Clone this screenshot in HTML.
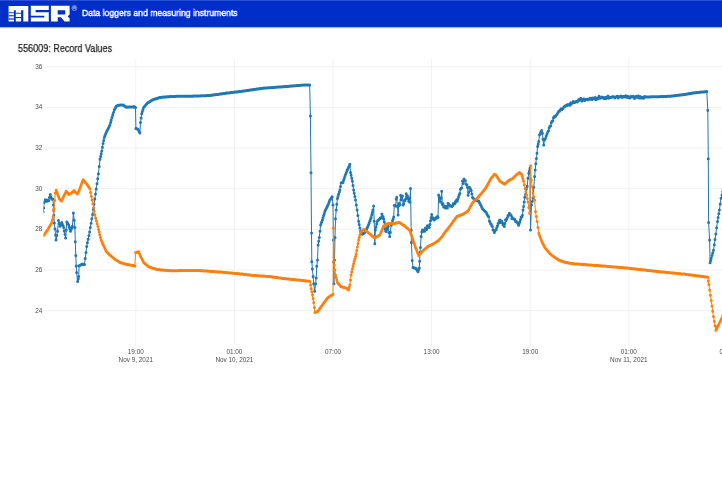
<!DOCTYPE html>
<html><head><meta charset="utf-8"><style>
html,body{margin:0;padding:0;background:#fff;}
body{width:722px;height:481px;position:relative;overflow:hidden;font-family:"Liberation Sans",sans-serif;}
.hdr{position:absolute;left:0;top:0;width:722px;height:27px;background:#002ec9;box-shadow:0 1px 1px rgba(0,0,0,0.28);border-top:1px solid #2a4fd0;box-sizing:border-box;z-index:2;}
.logo{position:absolute;left:0;top:0;}
.tag{position:absolute;left:81.5px;top:6.2px;color:#fff;font-size:9.7px;font-weight:normal;-webkit-text-stroke:0.4px #fff;white-space:nowrap;transform-origin:0 0;transform:scaleX(0.892);will-change:transform;}
.title{position:absolute;left:18px;top:42.2px;color:#222;font-size:10.6px;white-space:nowrap;line-height:12px;transform-origin:0 0;transform:scaleX(0.855);-webkit-text-stroke:0.25px #222;will-change:transform;}
.chart{position:absolute;left:0;top:0;z-index:1;will-change:transform;}
</style></head><body>
<div class="hdr"><svg class="logo" width="80" height="27" style="top:-1px" viewBox="0 0 80 27">
<g fill="#fff">
<path d="M8.6 6.1H28.3V21.5H23.3V10.2H21.1V21.5H15.8V10.2H13.9V21.5H8.6Z"/>
<path d="M30.8 5.8H48.8V9.9H35.6V12.3H48.8V21.4H30.8V17.5H44.3V15.8H30.8Z"/>
<path d="M50.9 5.8H69.6V14.6L67.6 16.4L69.6 18.2V21.4H64.6L61.0 17.2H57.7V21.4H50.9ZM57.7 10.3V14.4H65.2V10.3Z" fill-rule="evenodd"/>
</g>
<g fill="#002ec9">
<rect x="8.6" y="12.3" width="5.3" height="0.9"/><rect x="8.6" y="15.2" width="5.3" height="1.1"/><rect x="8.6" y="18.4" width="5.3" height="1.2"/>
<rect x="15.8" y="12.8" width="5.3" height="0.9"/><rect x="15.8" y="17.0" width="5.3" height="1.1"/>
</g>
<circle cx="74.4" cy="8.0" r="2.9" fill="#5d76dc"/><circle cx="74.4" cy="7.6" r="1.3" fill="#8094e4"/><circle cx="74.4" cy="9.5" r="0.7" fill="#2a48cf"/>
</svg><div class="tag">Data loggers and measuring instruments</div></div>
<div class="title">556009: Record Values</div>
<svg class="chart" width="722" height="481" viewBox="0 0 722 481">
<g stroke="#f1f1f1" stroke-width="1"><line x1="43.5" x2="722" y1="66.80" y2="66.80"/><line x1="43.5" x2="722" y1="107.43" y2="107.43"/><line x1="43.5" x2="722" y1="148.07" y2="148.07"/><line x1="43.5" x2="722" y1="188.70" y2="188.70"/><line x1="43.5" x2="722" y1="229.33" y2="229.33"/><line x1="43.5" x2="722" y1="269.97" y2="269.97"/><line x1="43.5" x2="722" y1="310.60" y2="310.60"/><line x1="135.80" x2="135.80" y1="58.7" y2="345.3"/><line x1="234.40" x2="234.40" y1="58.7" y2="345.3"/><line x1="333.00" x2="333.00" y1="58.7" y2="345.3"/><line x1="431.60" x2="431.60" y1="58.7" y2="345.3"/><line x1="530.20" x2="530.20" y1="58.7" y2="345.3"/><line x1="628.80" x2="628.80" y1="58.7" y2="345.3"/><line x1="727.40" x2="727.40" y1="58.7" y2="345.3"/></g>
<g font-family="Liberation Sans, sans-serif" font-size="6.4" fill="#4a4a4a"><text x="42.3" y="68.80" text-anchor="end">36</text><text x="42.3" y="109.43" text-anchor="end">34</text><text x="42.3" y="150.07" text-anchor="end">32</text><text x="42.3" y="190.70" text-anchor="end">30</text><text x="42.3" y="231.33" text-anchor="end">28</text><text x="42.3" y="271.97" text-anchor="end">26</text><text x="42.3" y="312.60" text-anchor="end">24</text><text x="135.80" y="354.3" text-anchor="middle">19:00</text><text x="135.80" y="361.6" text-anchor="middle">Nov 9, 2021</text><text x="234.40" y="354.3" text-anchor="middle">01:00</text><text x="234.40" y="361.6" text-anchor="middle">Nov 10, 2021</text><text x="333.00" y="354.3" text-anchor="middle">07:00</text><text x="431.60" y="354.3" text-anchor="middle">13:00</text><text x="530.20" y="354.3" text-anchor="middle">19:00</text><text x="628.80" y="354.3" text-anchor="middle">01:00</text><text x="628.80" y="361.6" text-anchor="middle">Nov 11, 2021</text><text x="727.40" y="354.3" text-anchor="middle">07:00</text></g>
<clipPath id="pc"><rect x="43.5" y="58.7" width="683.5" height="286.6"/></clipPath>
<g clip-path="url(#pc)"><polyline points="43.1,211.8 43.7,208.1 44.1,202.5 44.7,201.5 45.3,199.7 46.1,200.0 46.9,201.3 47.5,200.2 48.1,200.7 48.8,200.7 49.4,197.6 50.3,194.4 50.9,197.0 51.5,198.5 52.1,199.2 52.8,199.1 53.4,205.0 53.7,210.0 53.8,215.0 54.3,223.0 55.0,229.0 55.6,235.0 56.0,240.0 56.8,235.6 57.5,231.2 58.5,220.6 59.2,223.4 60.0,226.2 60.6,225.0 61.2,223.7 61.8,222.5 62.4,224.2 63.1,225.8 63.7,227.5 64.3,231.0 65.0,234.5 65.6,238.0 66.2,229.9 66.8,221.9 67.4,222.9 68.1,224.0 68.7,225.0 69.3,227.1 69.9,229.1 70.5,231.2 71.1,229.5 71.8,227.9 72.4,226.2 73.4,213.0 74.2,220.2 74.9,227.5 75.3,241.8 75.8,255.5 76.2,266.0 76.6,272.4 77.6,281.4 78.2,279.0 78.7,276.6 79.1,265.8 79.8,265.5 80.4,265.1 81.1,264.8 81.7,264.4 82.4,264.1 83.1,264.2 83.8,264.4 84.5,264.5 85.2,258.5 86.0,252.4 86.7,246.4 87.4,242.8 88.2,239.2 88.9,235.5 89.6,231.9 90.3,227.5 91.1,223.2 91.8,218.8 92.6,214.4 93.3,209.3 94.0,204.2 94.8,199.1 95.5,194.0 96.2,188.9 97.0,183.8 97.7,178.8 98.4,173.7 99.2,166.4 100.0,159.2 100.6,156.5 101.2,153.8 101.8,151.1 102.4,147.3 103.1,143.6 103.7,140.5 104.3,137.4 104.9,135.7 105.6,134.1 106.2,132.4 106.8,131.2 107.5,129.9 108.1,128.7 108.7,127.4 109.3,126.2 109.9,124.9 110.6,122.5 111.2,120.0 112.0,117.5 112.7,115.0 113.5,112.5 114.3,110.0 114.9,108.7 115.6,107.5 116.2,106.2 116.8,106.0 117.5,105.7 118.1,105.5 118.7,105.2 119.4,105.2 120.1,105.1 120.8,105.1 121.6,105.0 122.3,105.0 123.0,104.9 123.6,105.4 124.3,105.8 124.9,106.3 125.6,106.7 126.2,107.2 126.9,107.2 127.6,107.1 128.2,107.1 128.9,107.1 129.6,107.0 130.2,107.0 130.9,107.0 131.6,106.9 132.3,106.9 133.0,106.9 133.6,106.8 134.3,106.8 134.9,107.1 135.5,107.4 135.9,128.6 136.6,128.8 137.3,129.1 138.0,129.3 138.6,130.5 139.3,131.8 139.9,133.0 140.5,122.4 141.1,118.1 141.7,113.7 142.3,111.6 143.0,109.5 143.6,107.4 144.2,106.7 144.9,106.0 145.5,105.2 146.1,104.5 146.8,103.8 147.4,103.1 148.1,102.7 148.8,102.2 149.5,101.8 150.2,101.3 150.9,100.9 151.6,100.4 152.3,100.0 153.0,99.8 153.7,99.5 154.3,99.3 155.0,99.1 155.7,98.9 156.4,98.6 157.1,98.4 157.8,98.2 158.4,98.0 159.1,97.7 159.8,97.5 160.5,97.4 161.1,97.4 161.8,97.3 162.5,97.3 163.1,97.2 163.8,97.1 164.5,97.1 165.1,97.0 165.8,97.0 166.5,96.9 167.1,96.8 167.8,96.8 168.5,96.7 169.1,96.7 169.8,96.6 170.5,96.6 171.2,96.5 171.8,96.5 172.5,96.5 173.2,96.5 173.9,96.4 174.6,96.4 175.2,96.4 175.9,96.4 176.6,96.3 177.3,96.3 178.0,96.3 178.6,96.3 179.3,96.2 180.0,96.2 180.7,96.2 181.4,96.2 182.0,96.2 182.7,96.2 183.4,96.2 184.1,96.2 184.7,96.2 185.4,96.2 186.1,96.2 186.8,96.2 187.5,96.2 188.1,96.2 188.8,96.2 189.5,96.2 190.2,96.2 190.8,96.2 191.5,96.2 192.2,96.2 192.9,96.2 193.6,96.1 194.2,96.1 194.9,96.1 195.6,96.1 196.3,96.0 197.0,96.0 197.6,96.0 198.3,96.0 199.0,95.9 199.7,95.9 200.4,95.9 201.1,95.8 201.7,95.8 202.4,95.8 203.1,95.8 203.8,95.7 204.5,95.7 205.1,95.7 205.8,95.7 206.5,95.6 207.2,95.6 207.9,95.6 208.5,95.6 209.2,95.5 209.9,95.5 210.6,95.4 211.2,95.3 211.9,95.2 212.6,95.1 213.3,95.0 213.9,94.9 214.6,94.8 215.3,94.7 216.0,94.6 216.6,94.5 217.3,94.4 218.0,94.4 218.7,94.3 219.3,94.2 220.0,94.1 220.7,94.0 221.4,93.9 222.0,93.8 222.7,93.7 223.4,93.6 224.1,93.5 224.7,93.4 225.4,93.3 226.1,93.2 226.8,93.1 227.5,93.0 228.1,93.0 228.8,92.9 229.5,92.8 230.2,92.7 230.9,92.6 231.6,92.5 232.2,92.5 232.9,92.4 233.6,92.3 234.3,92.2 235.0,92.1 235.7,92.0 236.4,91.9 237.0,91.9 237.7,91.8 238.4,91.7 239.1,91.6 239.8,91.5 240.5,91.4 241.1,91.4 241.8,91.3 242.5,91.2 243.2,91.1 243.9,91.0 244.6,90.9 245.3,90.8 245.9,90.7 246.6,90.6 247.3,90.5 248.0,90.4 248.7,90.3 249.4,90.2 250.1,90.1 250.7,90.0 251.4,89.9 252.1,89.8 252.8,89.7 253.5,89.6 254.2,89.5 254.9,89.4 255.6,89.3 256.2,89.2 256.9,89.1 257.6,89.0 258.3,88.9 259.0,88.8 259.7,88.7 260.4,88.6 261.0,88.5 261.7,88.4 262.4,88.3 263.1,88.2 263.8,88.2 264.5,88.1 265.2,88.0 265.9,88.0 266.6,88.0 267.3,87.9 268.0,87.8 268.7,87.8 269.3,87.8 270.0,87.7 270.7,87.7 271.4,87.6 272.1,87.5 272.8,87.5 273.5,87.5 274.2,87.4 274.9,87.3 275.6,87.3 276.3,87.2 277.0,87.2 277.7,87.1 278.4,87.1 279.1,87.0 279.8,87.0 280.4,87.0 281.1,86.9 281.8,86.8 282.5,86.8 283.2,86.8 283.9,86.7 284.6,86.6 285.3,86.6 286.0,86.5 286.7,86.5 287.3,86.4 288.0,86.4 288.7,86.3 289.4,86.3 290.1,86.2 290.7,86.1 291.4,86.1 292.1,86.0 292.8,86.0 293.5,85.9 294.1,85.8 294.8,85.8 295.5,85.7 296.2,85.7 296.9,85.6 297.6,85.6 298.2,85.5 298.9,85.4 299.6,85.4 300.3,85.3 301.0,85.3 301.6,85.2 302.3,85.2 303.0,85.1 303.7,85.1 304.3,85.1 305.0,85.1 305.7,85.1 306.4,85.1 307.0,85.1 307.7,85.1 308.4,85.1 309.0,85.1 309.7,85.1 310.4,116.1 311.0,172.7 311.5,233.0 311.8,261.7 312.4,269.0 313.1,276.4 313.7,283.7 314.7,291.2 315.6,283.7 316.2,278.1 316.8,266.2 317.5,259.9 318.1,244.9 318.7,241.2 319.3,237.4 320.0,231.2 320.6,225.0 321.2,223.3 321.8,221.7 322.4,220.0 323.0,217.8 323.6,215.6 324.3,213.4 324.9,211.2 325.5,210.0 326.1,208.7 326.8,207.5 327.4,206.2 328.0,205.0 328.6,203.3 329.3,201.6 329.9,199.9 330.7,198.9 331.4,197.8 332.2,196.8 333.0,205.0 333.4,240.0 333.7,262.0 333.9,283.7 334.5,260.0 335.0,237.4 335.5,218.7 336.2,210.0 336.8,204.3 337.4,198.6 338.0,196.4 338.6,194.2 339.3,192.1 339.9,189.9 340.5,186.4 341.1,183.0 341.7,182.8 342.4,182.6 343.0,182.4 343.6,180.3 344.3,178.3 344.9,176.2 345.5,174.5 346.2,172.9 346.8,171.2 347.4,169.8 348.0,168.4 348.7,167.1 349.3,165.7 349.9,164.3 350.5,172.4 351.1,175.3 351.8,178.3 352.4,181.2 353.0,185.6 353.6,189.9 354.2,193.2 354.9,196.6 355.5,199.9 356.3,204.9 357.1,209.9 357.9,215.6 358.6,221.2 359.2,224.5 359.9,227.9 360.5,231.2 361.1,232.2 361.7,233.3 362.3,234.3 362.9,233.8 363.6,233.4 364.2,232.9 364.8,232.4 365.4,231.2 366.1,229.9 366.7,228.7 367.4,227.4 368.0,226.2 368.6,224.5 369.2,222.7 369.9,221.0 370.5,219.2 371.1,217.5 371.7,215.0 372.3,212.5 372.9,210.0 373.6,206.1 374.2,221.2 374.8,243.7 375.4,229.9 376.0,227.0 376.7,224.1 377.3,221.2 377.9,220.6 378.6,219.9 379.2,219.3 379.8,218.7 380.5,217.8 381.2,218.1 381.9,214.0 382.5,217.1 383.1,216.4 383.7,219.0 384.3,222.1 385.0,228.7 385.6,231.0 386.2,231.6 386.9,229.5 387.5,227.1 388.2,226.5 389.0,232.7 389.7,236.6 390.4,232.2 391.2,225.0 391.8,224.5 392.5,220.7 393.1,219.0 393.7,217.0 394.3,205.3 395.0,205.5 395.6,206.0 396.2,199.1 396.8,197.2 397.5,206.5 398.1,215.1 398.7,205.8 399.3,203.3 399.9,204.8 400.6,195.3 401.2,199.7 401.8,195.9 402.4,196.0 403.1,204.9 403.7,203.7 404.3,200.6 404.9,200.8 405.6,198.9 406.2,193.8 406.8,196.9 407.4,195.7 408.1,198.4 408.7,201.2 409.3,197.9 409.9,202.3 410.5,188.5 411.2,229.9 411.4,242.5 412.2,260.5 413.0,267.4 413.6,267.6 414.3,267.9 414.9,268.1 415.6,268.4 416.2,268.6 416.8,269.7 417.4,270.7 418.0,271.8 418.6,269.9 419.3,268.0 419.7,261.2 419.9,252.4 420.5,247.5 421.1,236.4 421.8,232.0 422.4,229.9 423.1,230.1 423.9,231.2 424.6,231.3 425.4,228.1 426.1,228.4 426.7,229.5 427.4,225.7 428.0,226.9 428.7,226.6 429.3,227.6 429.9,224.4 430.5,220.7 431.1,217.6 431.7,214.6 432.3,218.4 433.0,217.7 433.6,219.5 434.2,220.0 434.9,219.2 435.5,218.8 436.1,217.4 436.7,217.9 437.4,216.5 438.0,217.6 438.6,195.1 439.2,197.0 439.9,200.5 440.5,202.0 441.1,198.1 441.7,191.2 442.3,204.4 442.9,203.6 443.6,206.9 444.2,205.9 444.8,206.9 445.4,207.9 446.1,206.2 446.7,206.5 447.4,208.0 448.0,203.3 448.6,203.9 449.2,205.3 449.9,206.0 450.5,205.6 451.1,206.0 451.8,206.5 452.6,205.8 453.3,203.5 454.1,204.1 454.8,203.7 455.4,201.4 456.0,202.0 456.7,199.7 457.3,200.9 457.9,198.9 458.5,197.1 459.2,194.7 459.8,193.6 460.4,189.2 461.1,188.2 461.7,187.9 462.5,181.1 463.2,183.5 464.0,179.1 464.7,180.9 465.4,180.6 466.2,184.2 466.9,185.1 467.5,187.5 468.1,195.2 468.8,192.3 469.4,187.3 470.0,188.1 470.6,189.5 471.2,190.5 471.9,193.9 472.5,197.4 473.1,198.0 473.8,198.7 474.4,199.3 475.0,199.9 475.7,200.1 476.5,200.4 477.2,200.6 478.0,200.9 478.7,201.1 479.3,202.3 479.9,203.6 480.6,204.8 481.2,206.1 481.9,207.4 482.5,208.7 483.2,209.5 484.0,210.2 484.7,211.0 485.5,211.7 486.2,212.5 486.8,213.8 487.4,215.0 488.1,216.1 488.7,216.7 489.4,220.9 490.0,222.1 490.6,223.7 491.2,224.3 491.8,225.7 492.4,226.4 493.0,229.9 493.7,230.2 494.3,232.6 494.9,231.2 495.6,230.0 496.2,229.6 496.8,227.4 497.5,225.8 498.1,223.4 498.7,222.4 499.3,220.5 499.9,220.0 500.5,222.4 501.1,221.0 501.8,221.2 502.4,222.8 503.0,225.1 503.7,224.2 504.3,226.6 504.9,223.5 505.5,219.8 506.1,220.6 506.8,218.7 507.4,217.6 508.0,215.6 508.7,215.3 509.3,213.3 509.9,214.5 510.6,214.7 511.2,215.6 511.8,218.6 512.4,217.6 513.0,218.7 513.7,219.0 514.3,219.1 514.9,219.6 515.6,221.4 516.4,221.5 517.1,222.5 517.9,223.5 518.6,225.2 519.2,223.4 519.9,221.7 520.5,219.5 521.1,217.0 521.8,217.0 522.4,215.2 523.0,210.1 523.6,206.5 524.2,202.0 524.7,197.3 525.5,194.4 526.4,189.0 527.2,186.2 528.0,178.2 528.8,173.3 529.4,170.8 530.0,168.3 530.5,229.9 531.5,205.0 532.2,201.5 533.0,198.0 533.8,187.3 534.6,176.6 535.2,170.1 535.8,163.7 536.4,158.5 537.0,153.3 537.6,146.6 538.2,144.1 538.7,141.6 539.5,135.0 540.2,133.5 540.9,131.9 541.6,130.4 542.4,133.3 543.0,139.2 543.7,145.0 544.5,140.0 545.4,138.5 546.2,136.1 547.0,133.9 547.8,132.1 548.5,130.7 549.2,127.8 549.9,126.3 550.6,126.0 551.3,122.7 552.0,121.3 552.8,120.7 553.5,117.8 554.2,116.4 555.0,116.9 555.8,115.8 556.5,114.7 557.2,114.0 558.0,112.4 558.8,111.2 559.5,111.3 560.2,110.0 561.0,108.7 561.8,109.7 562.5,108.7 563.2,108.4 564.0,106.8 564.8,106.5 565.5,105.8 566.2,105.4 567.0,105.6 567.8,104.6 568.5,104.9 569.2,104.5 570.0,105.3 570.7,102.7 571.3,104.0 572.0,103.0 572.7,102.8 573.3,101.6 574.0,102.0 574.7,102.6 575.3,101.8 576.0,101.8 576.7,101.3 577.3,102.1 578.0,101.1 578.7,99.4 579.3,100.3 580.0,99.2 580.7,98.2 581.3,99.9 582.0,101.0 582.7,100.0 583.3,99.0 584.0,99.1 584.7,100.4 585.3,99.6 586.0,99.4 586.7,99.3 587.3,99.3 588.0,99.7 588.7,99.5 589.3,99.1 590.0,98.2 590.7,99.2 591.4,98.3 592.2,99.5 592.9,97.9 593.6,98.6 594.3,98.6 595.0,97.6 595.7,99.7 596.4,99.5 597.0,98.0 597.7,98.8 598.4,98.5 599.1,96.3 599.8,98.3 600.5,98.0 601.2,98.0 601.9,97.1 602.5,97.6 603.2,97.6 603.9,98.5 604.6,97.8 605.3,97.5 606.0,98.5 606.7,97.0 607.4,97.0 608.0,95.9 608.7,98.2 609.4,97.7 610.1,97.6 610.8,97.4 611.5,97.0 612.1,97.1 612.8,96.7 613.5,96.8 614.2,96.9 614.9,97.9 615.5,97.2 616.2,96.8 616.9,96.4 617.6,96.3 618.3,97.9 618.9,97.1 619.6,96.8 620.3,96.5 621.0,95.9 621.6,96.7 622.3,97.4 623.0,96.5 623.7,96.6 624.3,96.7 625.0,96.9 625.7,95.7 626.4,96.7 627.0,96.3 627.7,97.5 628.4,96.4 629.1,97.4 629.7,98.0 630.4,96.8 631.1,96.6 631.8,97.1 632.5,97.0 633.2,96.3 633.9,97.3 634.6,98.4 635.3,96.8 636.0,96.9 636.6,96.3 637.3,97.2 638.0,96.1 638.7,96.2 639.4,97.9 640.1,96.4 640.8,97.8 641.5,98.1 642.2,97.2 642.9,97.4 643.6,98.3 644.2,96.8 644.9,96.5 645.6,96.9 646.3,96.9 646.9,96.9 647.6,96.9 648.3,96.9 649.0,96.9 649.6,96.9 650.3,96.9 651.0,96.8 651.7,96.8 652.3,96.8 653.0,96.8 653.7,96.8 654.4,96.8 655.0,96.8 655.7,96.8 656.4,96.7 657.1,96.7 657.7,96.7 658.4,96.7 659.1,96.7 659.8,96.7 660.5,96.6 661.2,96.6 661.9,96.6 662.6,96.6 663.3,96.5 664.0,96.5 664.7,96.5 665.4,96.4 666.1,96.4 666.8,96.4 667.5,96.3 668.2,96.3 668.9,96.3 669.6,96.3 670.3,96.2 671.0,96.2 671.7,96.1 672.4,96.0 673.0,95.9 673.7,95.9 674.4,95.8 675.0,95.7 675.7,95.6 676.4,95.5 677.1,95.4 677.8,95.3 678.4,95.3 679.1,95.2 679.8,95.1 680.5,95.0 681.1,94.9 681.8,94.8 682.5,94.8 683.1,94.7 683.8,94.6 684.5,94.5 685.2,94.4 685.8,94.3 686.5,94.2 687.2,94.0 687.9,93.9 688.5,93.8 689.2,93.7 689.9,93.6 690.6,93.5 691.2,93.4 691.9,93.3 692.6,93.1 693.3,93.0 693.9,92.9 694.6,92.8 695.3,92.7 696.0,92.7 696.6,92.6 697.3,92.5 698.0,92.5 698.7,92.4 699.3,92.3 700.0,92.3 700.7,92.2 701.4,92.1 702.1,92.1 702.7,92.0 703.4,91.9 704.1,91.9 704.8,91.8 705.4,91.7 706.1,91.7 706.8,91.6 707.8,110.2 708.3,158.7 708.6,222.4 709.6,239.9 710.1,262.8 710.7,260.5 711.2,258.2 712.0,255.5 712.7,252.9 713.5,250.2 714.3,244.8 715.0,239.4 715.8,234.0 716.6,227.8 717.5,221.5 718.1,217.6 718.8,213.8 719.4,209.9 720.2,204.1 721.1,198.3 722.0,195.0 722.7,191.7 723.3,188.3 724.0,185.0" fill="none" stroke="#1f77b4" stroke-width="1.0" stroke-linejoin="round"/><path d="M43.1 211.8h0M43.7 208.1h0M44.1 202.5h0M44.7 201.5h0M45.3 199.7h0M46.1 200.0h0M46.9 201.3h0M47.5 200.2h0M48.1 200.7h0M48.8 200.7h0M49.4 197.6h0M50.3 194.4h0M50.9 197.0h0M51.5 198.5h0M52.1 199.2h0M52.8 199.1h0M53.4 205.0h0M53.7 210.0h0M53.8 215.0h0M54.3 223.0h0M55.0 229.0h0M55.6 235.0h0M56.0 240.0h0M56.8 235.6h0M57.5 231.2h0M58.5 220.6h0M59.2 223.4h0M60.0 226.2h0M60.6 225.0h0M61.2 223.7h0M61.8 222.5h0M62.4 224.2h0M63.1 225.8h0M63.7 227.5h0M64.3 231.0h0M65.0 234.5h0M65.6 238.0h0M66.2 229.9h0M66.8 221.9h0M67.4 222.9h0M68.1 224.0h0M68.7 225.0h0M69.3 227.1h0M69.9 229.1h0M70.5 231.2h0M71.1 229.5h0M71.8 227.9h0M72.4 226.2h0M73.4 213.0h0M74.2 220.2h0M74.9 227.5h0M75.3 241.8h0M75.8 255.5h0M76.2 266.0h0M76.6 272.4h0M77.6 281.4h0M78.2 279.0h0M78.7 276.6h0M79.1 265.8h0M79.8 265.5h0M80.4 265.1h0M81.1 264.8h0M81.7 264.4h0M82.4 264.1h0M83.1 264.2h0M83.8 264.4h0M84.5 264.5h0M85.2 258.5h0M86.0 252.4h0M86.7 246.4h0M87.4 242.8h0M88.2 239.2h0M88.9 235.5h0M89.6 231.9h0M90.3 227.5h0M91.1 223.2h0M91.8 218.8h0M92.6 214.4h0M93.3 209.3h0M94.0 204.2h0M94.8 199.1h0M95.5 194.0h0M96.2 188.9h0M97.0 183.8h0M97.7 178.8h0M98.4 173.7h0M99.2 166.4h0M100.0 159.2h0M100.6 156.5h0M101.2 153.8h0M101.8 151.1h0M102.4 147.3h0M103.1 143.6h0M103.7 140.5h0M104.3 137.4h0M104.9 135.7h0M105.6 134.1h0M106.2 132.4h0M106.8 131.2h0M107.5 129.9h0M108.1 128.7h0M108.7 127.4h0M109.3 126.2h0M109.9 124.9h0M110.6 122.5h0M111.2 120.0h0M112.0 117.5h0M112.7 115.0h0M113.5 112.5h0M114.3 110.0h0M114.9 108.7h0M115.6 107.5h0M116.2 106.2h0M116.8 106.0h0M117.5 105.7h0M118.1 105.5h0M118.7 105.2h0M119.4 105.2h0M120.1 105.1h0M120.8 105.1h0M121.6 105.0h0M122.3 105.0h0M123.0 104.9h0M123.6 105.4h0M124.3 105.8h0M124.9 106.3h0M125.6 106.7h0M126.2 107.2h0M126.9 107.2h0M127.6 107.1h0M128.2 107.1h0M128.9 107.1h0M129.6 107.0h0M130.2 107.0h0M130.9 107.0h0M131.6 106.9h0M132.3 106.9h0M133.0 106.9h0M133.6 106.8h0M134.3 106.8h0M134.9 107.1h0M135.5 107.4h0M135.9 128.6h0M136.6 128.8h0M137.3 129.1h0M138.0 129.3h0M138.6 130.5h0M139.3 131.8h0M139.9 133.0h0M140.5 122.4h0M141.1 118.1h0M141.7 113.7h0M142.3 111.6h0M143.0 109.5h0M143.6 107.4h0M144.2 106.7h0M144.9 106.0h0M145.5 105.2h0M146.1 104.5h0M146.8 103.8h0M147.4 103.1h0M148.1 102.7h0M148.8 102.2h0M149.5 101.8h0M150.2 101.3h0M150.9 100.9h0M151.6 100.4h0M152.3 100.0h0M153.0 99.8h0M153.7 99.5h0M154.3 99.3h0M155.0 99.1h0M155.7 98.9h0M156.4 98.6h0M157.1 98.4h0M157.8 98.2h0M158.4 98.0h0M159.1 97.7h0M159.8 97.5h0M160.5 97.4h0M161.1 97.4h0M161.8 97.3h0M162.5 97.3h0M163.1 97.2h0M163.8 97.1h0M164.5 97.1h0M165.1 97.0h0M165.8 97.0h0M166.5 96.9h0M167.1 96.8h0M167.8 96.8h0M168.5 96.7h0M169.1 96.7h0M169.8 96.6h0M170.5 96.6h0M171.2 96.5h0M171.8 96.5h0M172.5 96.5h0M173.2 96.5h0M173.9 96.4h0M174.6 96.4h0M175.2 96.4h0M175.9 96.4h0M176.6 96.3h0M177.3 96.3h0M178.0 96.3h0M178.6 96.3h0M179.3 96.2h0M180.0 96.2h0M180.7 96.2h0M181.4 96.2h0M182.0 96.2h0M182.7 96.2h0M183.4 96.2h0M184.1 96.2h0M184.7 96.2h0M185.4 96.2h0M186.1 96.2h0M186.8 96.2h0M187.5 96.2h0M188.1 96.2h0M188.8 96.2h0M189.5 96.2h0M190.2 96.2h0M190.8 96.2h0M191.5 96.2h0M192.2 96.2h0M192.9 96.2h0M193.6 96.1h0M194.2 96.1h0M194.9 96.1h0M195.6 96.1h0M196.3 96.0h0M197.0 96.0h0M197.6 96.0h0M198.3 96.0h0M199.0 95.9h0M199.7 95.9h0M200.4 95.9h0M201.1 95.8h0M201.7 95.8h0M202.4 95.8h0M203.1 95.8h0M203.8 95.7h0M204.5 95.7h0M205.1 95.7h0M205.8 95.7h0M206.5 95.6h0M207.2 95.6h0M207.9 95.6h0M208.5 95.6h0M209.2 95.5h0M209.9 95.5h0M210.6 95.4h0M211.2 95.3h0M211.9 95.2h0M212.6 95.1h0M213.3 95.0h0M213.9 94.9h0M214.6 94.8h0M215.3 94.7h0M216.0 94.6h0M216.6 94.5h0M217.3 94.4h0M218.0 94.4h0M218.7 94.3h0M219.3 94.2h0M220.0 94.1h0M220.7 94.0h0M221.4 93.9h0M222.0 93.8h0M222.7 93.7h0M223.4 93.6h0M224.1 93.5h0M224.7 93.4h0M225.4 93.3h0M226.1 93.2h0M226.8 93.1h0M227.5 93.0h0M228.1 93.0h0M228.8 92.9h0M229.5 92.8h0M230.2 92.7h0M230.9 92.6h0M231.6 92.5h0M232.2 92.5h0M232.9 92.4h0M233.6 92.3h0M234.3 92.2h0M235.0 92.1h0M235.7 92.0h0M236.4 91.9h0M237.0 91.9h0M237.7 91.8h0M238.4 91.7h0M239.1 91.6h0M239.8 91.5h0M240.5 91.4h0M241.1 91.4h0M241.8 91.3h0M242.5 91.2h0M243.2 91.1h0M243.9 91.0h0M244.6 90.9h0M245.3 90.8h0M245.9 90.7h0M246.6 90.6h0M247.3 90.5h0M248.0 90.4h0M248.7 90.3h0M249.4 90.2h0M250.1 90.1h0M250.7 90.0h0M251.4 89.9h0M252.1 89.8h0M252.8 89.7h0M253.5 89.6h0M254.2 89.5h0M254.9 89.4h0M255.6 89.3h0M256.2 89.2h0M256.9 89.1h0M257.6 89.0h0M258.3 88.9h0M259.0 88.8h0M259.7 88.7h0M260.4 88.6h0M261.0 88.5h0M261.7 88.4h0M262.4 88.3h0M263.1 88.2h0M263.8 88.2h0M264.5 88.1h0M265.2 88.0h0M265.9 88.0h0M266.6 88.0h0M267.3 87.9h0M268.0 87.8h0M268.7 87.8h0M269.3 87.8h0M270.0 87.7h0M270.7 87.7h0M271.4 87.6h0M272.1 87.5h0M272.8 87.5h0M273.5 87.5h0M274.2 87.4h0M274.9 87.3h0M275.6 87.3h0M276.3 87.2h0M277.0 87.2h0M277.7 87.1h0M278.4 87.1h0M279.1 87.0h0M279.8 87.0h0M280.4 87.0h0M281.1 86.9h0M281.8 86.8h0M282.5 86.8h0M283.2 86.8h0M283.9 86.7h0M284.6 86.6h0M285.3 86.6h0M286.0 86.5h0M286.7 86.5h0M287.3 86.4h0M288.0 86.4h0M288.7 86.3h0M289.4 86.3h0M290.1 86.2h0M290.7 86.1h0M291.4 86.1h0M292.1 86.0h0M292.8 86.0h0M293.5 85.9h0M294.1 85.8h0M294.8 85.8h0M295.5 85.7h0M296.2 85.7h0M296.9 85.6h0M297.6 85.6h0M298.2 85.5h0M298.9 85.4h0M299.6 85.4h0M300.3 85.3h0M301.0 85.3h0M301.6 85.2h0M302.3 85.2h0M303.0 85.1h0M303.7 85.1h0M304.3 85.1h0M305.0 85.1h0M305.7 85.1h0M306.4 85.1h0M307.0 85.1h0M307.7 85.1h0M308.4 85.1h0M309.0 85.1h0M309.7 85.1h0M310.4 116.1h0M311.0 172.7h0M311.5 233.0h0M311.8 261.7h0M312.4 269.0h0M313.1 276.4h0M313.7 283.7h0M314.7 291.2h0M315.6 283.7h0M316.2 278.1h0M316.8 266.2h0M317.5 259.9h0M318.1 244.9h0M318.7 241.2h0M319.3 237.4h0M320.0 231.2h0M320.6 225.0h0M321.2 223.3h0M321.8 221.7h0M322.4 220.0h0M323.0 217.8h0M323.6 215.6h0M324.3 213.4h0M324.9 211.2h0M325.5 210.0h0M326.1 208.7h0M326.8 207.5h0M327.4 206.2h0M328.0 205.0h0M328.6 203.3h0M329.3 201.6h0M329.9 199.9h0M330.7 198.9h0M331.4 197.8h0M332.2 196.8h0M333.0 205.0h0M333.4 240.0h0M333.7 262.0h0M333.9 283.7h0M334.5 260.0h0M335.0 237.4h0M335.5 218.7h0M336.2 210.0h0M336.8 204.3h0M337.4 198.6h0M338.0 196.4h0M338.6 194.2h0M339.3 192.1h0M339.9 189.9h0M340.5 186.4h0M341.1 183.0h0M341.7 182.8h0M342.4 182.6h0M343.0 182.4h0M343.6 180.3h0M344.3 178.3h0M344.9 176.2h0M345.5 174.5h0M346.2 172.9h0M346.8 171.2h0M347.4 169.8h0M348.0 168.4h0M348.7 167.1h0M349.3 165.7h0M349.9 164.3h0M350.5 172.4h0M351.1 175.3h0M351.8 178.3h0M352.4 181.2h0M353.0 185.6h0M353.6 189.9h0M354.2 193.2h0M354.9 196.6h0M355.5 199.9h0M356.3 204.9h0M357.1 209.9h0M357.9 215.6h0M358.6 221.2h0M359.2 224.5h0M359.9 227.9h0M360.5 231.2h0M361.1 232.2h0M361.7 233.3h0M362.3 234.3h0M362.9 233.8h0M363.6 233.4h0M364.2 232.9h0M364.8 232.4h0M365.4 231.2h0M366.1 229.9h0M366.7 228.7h0M367.4 227.4h0M368.0 226.2h0M368.6 224.5h0M369.2 222.7h0M369.9 221.0h0M370.5 219.2h0M371.1 217.5h0M371.7 215.0h0M372.3 212.5h0M372.9 210.0h0M373.6 206.1h0M374.2 221.2h0M374.8 243.7h0M375.4 229.9h0M376.0 227.0h0M376.7 224.1h0M377.3 221.2h0M377.9 220.6h0M378.6 219.9h0M379.2 219.3h0M379.8 218.7h0M380.5 217.8h0M381.2 218.1h0M381.9 214.0h0M382.5 217.1h0M383.1 216.4h0M383.7 219.0h0M384.3 222.1h0M385.0 228.7h0M385.6 231.0h0M386.2 231.6h0M386.9 229.5h0M387.5 227.1h0M388.2 226.5h0M389.0 232.7h0M389.7 236.6h0M390.4 232.2h0M391.2 225.0h0M391.8 224.5h0M392.5 220.7h0M393.1 219.0h0M393.7 217.0h0M394.3 205.3h0M395.0 205.5h0M395.6 206.0h0M396.2 199.1h0M396.8 197.2h0M397.5 206.5h0M398.1 215.1h0M398.7 205.8h0M399.3 203.3h0M399.9 204.8h0M400.6 195.3h0M401.2 199.7h0M401.8 195.9h0M402.4 196.0h0M403.1 204.9h0M403.7 203.7h0M404.3 200.6h0M404.9 200.8h0M405.6 198.9h0M406.2 193.8h0M406.8 196.9h0M407.4 195.7h0M408.1 198.4h0M408.7 201.2h0M409.3 197.9h0M409.9 202.3h0M410.5 188.5h0M411.2 229.9h0M411.4 242.5h0M412.2 260.5h0M413.0 267.4h0M413.6 267.6h0M414.3 267.9h0M414.9 268.1h0M415.6 268.4h0M416.2 268.6h0M416.8 269.7h0M417.4 270.7h0M418.0 271.8h0M418.6 269.9h0M419.3 268.0h0M419.7 261.2h0M419.9 252.4h0M420.5 247.5h0M421.1 236.4h0M421.8 232.0h0M422.4 229.9h0M423.1 230.1h0M423.9 231.2h0M424.6 231.3h0M425.4 228.1h0M426.1 228.4h0M426.7 229.5h0M427.4 225.7h0M428.0 226.9h0M428.7 226.6h0M429.3 227.6h0M429.9 224.4h0M430.5 220.7h0M431.1 217.6h0M431.7 214.6h0M432.3 218.4h0M433.0 217.7h0M433.6 219.5h0M434.2 220.0h0M434.9 219.2h0M435.5 218.8h0M436.1 217.4h0M436.7 217.9h0M437.4 216.5h0M438.0 217.6h0M438.6 195.1h0M439.2 197.0h0M439.9 200.5h0M440.5 202.0h0M441.1 198.1h0M441.7 191.2h0M442.3 204.4h0M442.9 203.6h0M443.6 206.9h0M444.2 205.9h0M444.8 206.9h0M445.4 207.9h0M446.1 206.2h0M446.7 206.5h0M447.4 208.0h0M448.0 203.3h0M448.6 203.9h0M449.2 205.3h0M449.9 206.0h0M450.5 205.6h0M451.1 206.0h0M451.8 206.5h0M452.6 205.8h0M453.3 203.5h0M454.1 204.1h0M454.8 203.7h0M455.4 201.4h0M456.0 202.0h0M456.7 199.7h0M457.3 200.9h0M457.9 198.9h0M458.5 197.1h0M459.2 194.7h0M459.8 193.6h0M460.4 189.2h0M461.1 188.2h0M461.7 187.9h0M462.5 181.1h0M463.2 183.5h0M464.0 179.1h0M464.7 180.9h0M465.4 180.6h0M466.2 184.2h0M466.9 185.1h0M467.5 187.5h0M468.1 195.2h0M468.8 192.3h0M469.4 187.3h0M470.0 188.1h0M470.6 189.5h0M471.2 190.5h0M471.9 193.9h0M472.5 197.4h0M473.1 198.0h0M473.8 198.7h0M474.4 199.3h0M475.0 199.9h0M475.7 200.1h0M476.5 200.4h0M477.2 200.6h0M478.0 200.9h0M478.7 201.1h0M479.3 202.3h0M479.9 203.6h0M480.6 204.8h0M481.2 206.1h0M481.9 207.4h0M482.5 208.7h0M483.2 209.5h0M484.0 210.2h0M484.7 211.0h0M485.5 211.7h0M486.2 212.5h0M486.8 213.8h0M487.4 215.0h0M488.1 216.1h0M488.7 216.7h0M489.4 220.9h0M490.0 222.1h0M490.6 223.7h0M491.2 224.3h0M491.8 225.7h0M492.4 226.4h0M493.0 229.9h0M493.7 230.2h0M494.3 232.6h0M494.9 231.2h0M495.6 230.0h0M496.2 229.6h0M496.8 227.4h0M497.5 225.8h0M498.1 223.4h0M498.7 222.4h0M499.3 220.5h0M499.9 220.0h0M500.5 222.4h0M501.1 221.0h0M501.8 221.2h0M502.4 222.8h0M503.0 225.1h0M503.7 224.2h0M504.3 226.6h0M504.9 223.5h0M505.5 219.8h0M506.1 220.6h0M506.8 218.7h0M507.4 217.6h0M508.0 215.6h0M508.7 215.3h0M509.3 213.3h0M509.9 214.5h0M510.6 214.7h0M511.2 215.6h0M511.8 218.6h0M512.4 217.6h0M513.0 218.7h0M513.7 219.0h0M514.3 219.1h0M514.9 219.6h0M515.6 221.4h0M516.4 221.5h0M517.1 222.5h0M517.9 223.5h0M518.6 225.2h0M519.2 223.4h0M519.9 221.7h0M520.5 219.5h0M521.1 217.0h0M521.8 217.0h0M522.4 215.2h0M523.0 210.1h0M523.6 206.5h0M524.2 202.0h0M524.7 197.3h0M525.5 194.4h0M526.4 189.0h0M527.2 186.2h0M528.0 178.2h0M528.8 173.3h0M529.4 170.8h0M530.0 168.3h0M530.5 229.9h0M531.5 205.0h0M532.2 201.5h0M533.0 198.0h0M533.8 187.3h0M534.6 176.6h0M535.2 170.1h0M535.8 163.7h0M536.4 158.5h0M537.0 153.3h0M537.6 146.6h0M538.2 144.1h0M538.7 141.6h0M539.5 135.0h0M540.2 133.5h0M540.9 131.9h0M541.6 130.4h0M542.4 133.3h0M543.0 139.2h0M543.7 145.0h0M544.5 140.0h0M545.4 138.5h0M546.2 136.1h0M547.0 133.9h0M547.8 132.1h0M548.5 130.7h0M549.2 127.8h0M549.9 126.3h0M550.6 126.0h0M551.3 122.7h0M552.0 121.3h0M552.8 120.7h0M553.5 117.8h0M554.2 116.4h0M555.0 116.9h0M555.8 115.8h0M556.5 114.7h0M557.2 114.0h0M558.0 112.4h0M558.8 111.2h0M559.5 111.3h0M560.2 110.0h0M561.0 108.7h0M561.8 109.7h0M562.5 108.7h0M563.2 108.4h0M564.0 106.8h0M564.8 106.5h0M565.5 105.8h0M566.2 105.4h0M567.0 105.6h0M567.8 104.6h0M568.5 104.9h0M569.2 104.5h0M570.0 105.3h0M570.7 102.7h0M571.3 104.0h0M572.0 103.0h0M572.7 102.8h0M573.3 101.6h0M574.0 102.0h0M574.7 102.6h0M575.3 101.8h0M576.0 101.8h0M576.7 101.3h0M577.3 102.1h0M578.0 101.1h0M578.7 99.4h0M579.3 100.3h0M580.0 99.2h0M580.7 98.2h0M581.3 99.9h0M582.0 101.0h0M582.7 100.0h0M583.3 99.0h0M584.0 99.1h0M584.7 100.4h0M585.3 99.6h0M586.0 99.4h0M586.7 99.3h0M587.3 99.3h0M588.0 99.7h0M588.7 99.5h0M589.3 99.1h0M590.0 98.2h0M590.7 99.2h0M591.4 98.3h0M592.2 99.5h0M592.9 97.9h0M593.6 98.6h0M594.3 98.6h0M595.0 97.6h0M595.7 99.7h0M596.4 99.5h0M597.0 98.0h0M597.7 98.8h0M598.4 98.5h0M599.1 96.3h0M599.8 98.3h0M600.5 98.0h0M601.2 98.0h0M601.9 97.1h0M602.5 97.6h0M603.2 97.6h0M603.9 98.5h0M604.6 97.8h0M605.3 97.5h0M606.0 98.5h0M606.7 97.0h0M607.4 97.0h0M608.0 95.9h0M608.7 98.2h0M609.4 97.7h0M610.1 97.6h0M610.8 97.4h0M611.5 97.0h0M612.1 97.1h0M612.8 96.7h0M613.5 96.8h0M614.2 96.9h0M614.9 97.9h0M615.5 97.2h0M616.2 96.8h0M616.9 96.4h0M617.6 96.3h0M618.3 97.9h0M618.9 97.1h0M619.6 96.8h0M620.3 96.5h0M621.0 95.9h0M621.6 96.7h0M622.3 97.4h0M623.0 96.5h0M623.7 96.6h0M624.3 96.7h0M625.0 96.9h0M625.7 95.7h0M626.4 96.7h0M627.0 96.3h0M627.7 97.5h0M628.4 96.4h0M629.1 97.4h0M629.7 98.0h0M630.4 96.8h0M631.1 96.6h0M631.8 97.1h0M632.5 97.0h0M633.2 96.3h0M633.9 97.3h0M634.6 98.4h0M635.3 96.8h0M636.0 96.9h0M636.6 96.3h0M637.3 97.2h0M638.0 96.1h0M638.7 96.2h0M639.4 97.9h0M640.1 96.4h0M640.8 97.8h0M641.5 98.1h0M642.2 97.2h0M642.9 97.4h0M643.6 98.3h0M644.2 96.8h0M644.9 96.5h0M645.6 96.9h0M646.3 96.9h0M646.9 96.9h0M647.6 96.9h0M648.3 96.9h0M649.0 96.9h0M649.6 96.9h0M650.3 96.9h0M651.0 96.8h0M651.7 96.8h0M652.3 96.8h0M653.0 96.8h0M653.7 96.8h0M654.4 96.8h0M655.0 96.8h0M655.7 96.8h0M656.4 96.7h0M657.1 96.7h0M657.7 96.7h0M658.4 96.7h0M659.1 96.7h0M659.8 96.7h0M660.5 96.6h0M661.2 96.6h0M661.9 96.6h0M662.6 96.6h0M663.3 96.5h0M664.0 96.5h0M664.7 96.5h0M665.4 96.4h0M666.1 96.4h0M666.8 96.4h0M667.5 96.3h0M668.2 96.3h0M668.9 96.3h0M669.6 96.3h0M670.3 96.2h0M671.0 96.2h0M671.7 96.1h0M672.4 96.0h0M673.0 95.9h0M673.7 95.9h0M674.4 95.8h0M675.0 95.7h0M675.7 95.6h0M676.4 95.5h0M677.1 95.4h0M677.8 95.3h0M678.4 95.3h0M679.1 95.2h0M679.8 95.1h0M680.5 95.0h0M681.1 94.9h0M681.8 94.8h0M682.5 94.8h0M683.1 94.7h0M683.8 94.6h0M684.5 94.5h0M685.2 94.4h0M685.8 94.3h0M686.5 94.2h0M687.2 94.0h0M687.9 93.9h0M688.5 93.8h0M689.2 93.7h0M689.9 93.6h0M690.6 93.5h0M691.2 93.4h0M691.9 93.3h0M692.6 93.1h0M693.3 93.0h0M693.9 92.9h0M694.6 92.8h0M695.3 92.7h0M696.0 92.7h0M696.6 92.6h0M697.3 92.5h0M698.0 92.5h0M698.7 92.4h0M699.3 92.3h0M700.0 92.3h0M700.7 92.2h0M701.4 92.1h0M702.1 92.1h0M702.7 92.0h0M703.4 91.9h0M704.1 91.9h0M704.8 91.8h0M705.4 91.7h0M706.1 91.7h0M706.8 91.6h0M707.8 110.2h0M708.3 158.7h0M708.6 222.4h0M709.6 239.9h0M710.1 262.8h0M710.7 260.5h0M711.2 258.2h0M712.0 255.5h0M712.7 252.9h0M713.5 250.2h0M714.3 244.8h0M715.0 239.4h0M715.8 234.0h0M716.6 227.8h0M717.5 221.5h0M718.1 217.6h0M718.8 213.8h0M719.4 209.9h0M720.2 204.1h0M721.1 198.3h0M722.0 195.0h0M722.7 191.7h0M723.3 188.3h0M724.0 185.0h0" stroke="#1f77b4" stroke-width="3.0" stroke-linecap="round" fill="none"/><polyline points="43.5,235.6 44.2,234.7 44.8,233.7 45.5,232.8 46.2,231.9 46.8,230.9 47.5,230.0 48.2,228.8 48.9,227.5 49.6,226.2 50.4,225.0 51.1,223.8 51.8,222.5 52.5,219.7 53.1,216.9 53.7,211.0 54.0,208.7 54.7,200.6 55.3,193.1 56.2,190.3 56.9,192.0 57.5,193.7 58.1,195.4 58.7,197.0 59.3,198.7 60.0,199.4 60.8,200.2 61.5,200.9 62.2,199.3 63.0,197.8 63.7,196.2 64.3,194.9 65.0,193.7 65.6,192.4 66.2,191.2 66.8,192.0 67.5,192.8 68.1,193.6 68.7,194.4 69.3,194.1 70.0,193.8 70.6,193.4 71.2,193.1 71.9,192.5 72.6,191.8 73.3,191.2 74.0,190.6 74.7,191.3 75.4,192.0 76.0,192.6 76.7,193.3 77.4,194.0 78.0,192.7 78.7,191.3 79.3,190.0 79.9,188.3 80.5,186.7 81.1,185.0 81.7,183.2 82.4,181.5 83.0,179.7 83.8,180.5 84.5,181.3 85.2,182.2 86.0,183.0 86.7,183.9 87.3,184.9 88.0,185.8 88.6,186.8 89.2,187.8 89.9,188.7 90.6,192.4 91.4,196.2 92.1,199.9 92.9,203.7 93.6,207.4 94.2,211.2 94.9,215.0 95.6,217.9 96.4,220.8 97.1,223.7 97.9,226.6 98.6,229.5 99.2,232.1 99.8,234.8 100.5,237.4 101.1,240.0 101.8,241.6 102.5,243.2 103.2,244.8 104.0,246.4 104.7,248.0 105.4,249.6 106.1,251.2 106.8,251.8 107.4,252.5 108.0,253.1 108.7,253.7 109.3,254.4 110.0,255.0 110.7,255.6 111.4,256.2 112.1,256.8 112.9,257.5 113.6,258.1 114.3,258.7 115.0,259.3 115.7,259.8 116.4,260.2 117.1,260.7 117.9,261.1 118.6,261.6 119.3,262.0 120.0,262.5 120.7,262.7 121.4,262.9 122.1,263.1 122.8,263.3 123.4,263.5 124.1,263.7 124.8,263.9 125.5,264.1 126.2,264.3 126.9,264.4 127.5,264.5 128.2,264.7 128.9,264.8 129.5,264.9 130.2,265.0 130.9,265.2 131.6,265.3 132.2,265.4 132.9,265.5 133.6,265.7 134.2,265.8 134.9,265.9 135.6,252.5 136.2,252.4 136.8,252.2 137.5,252.1 138.1,251.9 138.7,251.8 139.3,253.3 139.9,254.7 140.5,256.2 141.1,257.4 141.8,258.7 142.4,259.9 143.1,261.2 143.7,262.4 144.4,263.0 145.1,263.7 145.8,264.3 146.6,264.9 147.3,265.5 148.0,266.2 148.7,266.8 149.4,267.0 150.0,267.3 150.7,267.5 151.4,267.7 152.1,267.9 152.7,268.2 153.4,268.4 154.1,268.6 154.8,268.8 155.4,269.1 156.1,269.3 156.8,269.4 157.5,269.5 158.1,269.5 158.8,269.6 159.5,269.7 160.2,269.8 160.9,269.9 161.6,270.0 162.2,270.0 162.9,270.1 163.6,270.2 164.3,270.2 164.9,270.3 165.6,270.3 166.3,270.4 166.9,270.4 167.6,270.5 168.3,270.5 169.0,270.6 169.6,270.6 170.3,270.7 171.0,270.7 171.6,270.8 172.3,270.8 173.0,270.8 173.7,270.8 174.4,270.8 175.1,270.7 175.8,270.7 176.5,270.7 177.2,270.7 177.9,270.7 178.6,270.6 179.2,270.6 179.9,270.6 180.6,270.6 181.3,270.6 182.0,270.6 182.7,270.6 183.4,270.5 184.1,270.5 184.8,270.5 185.5,270.5 186.2,270.5 186.9,270.5 187.6,270.5 188.3,270.5 189.0,270.5 189.7,270.5 190.4,270.5 191.0,270.4 191.7,270.4 192.4,270.4 193.1,270.4 193.8,270.4 194.5,270.4 195.2,270.4 195.9,270.4 196.6,270.4 197.3,270.4 198.0,270.5 198.7,270.5 199.4,270.6 200.1,270.6 200.8,270.7 201.5,270.8 202.2,270.8 202.8,270.8 203.5,270.9 204.2,270.9 204.9,271.0 205.6,271.0 206.3,271.1 207.0,271.1 207.7,271.2 208.4,271.2 209.1,271.3 209.8,271.3 210.5,271.4 211.2,271.4 211.9,271.5 212.6,271.6 213.3,271.6 214.0,271.6 214.7,271.7 215.3,271.8 216.0,271.8 216.7,271.8 217.4,271.9 218.1,271.9 218.8,272.0 219.5,272.1 220.2,272.1 220.9,272.1 221.6,272.2 222.3,272.3 223.0,272.3 223.6,272.4 224.3,272.5 225.0,272.5 225.7,272.6 226.4,272.6 227.1,272.7 227.7,272.8 228.4,272.8 229.1,272.9 229.8,273.0 230.5,273.0 231.1,273.1 231.8,273.1 232.5,273.2 233.2,273.3 233.9,273.3 234.5,273.4 235.2,273.5 235.9,273.5 236.6,273.6 237.3,273.6 238.0,273.7 238.6,273.8 239.3,273.8 240.0,273.9 240.7,274.0 241.3,274.1 242.0,274.1 242.7,274.2 243.4,274.3 244.0,274.4 244.7,274.5 245.4,274.5 246.1,274.6 246.7,274.7 247.4,274.8 248.1,274.8 248.8,274.9 249.4,275.0 250.1,275.1 250.8,275.2 251.5,275.2 252.1,275.3 252.8,275.4 253.5,275.4 254.2,275.5 254.9,275.5 255.6,275.6 256.2,275.6 256.9,275.7 257.6,275.7 258.3,275.8 259.0,275.8 259.7,275.9 260.4,275.9 261.1,276.0 261.7,276.0 262.4,276.1 263.1,276.1 263.8,276.2 264.5,276.2 265.2,276.3 265.9,276.3 266.6,276.4 267.2,276.4 267.9,276.5 268.6,276.5 269.3,276.6 270.0,276.6 270.7,276.7 271.4,276.8 272.1,276.9 272.8,277.0 273.5,277.1 274.2,277.2 274.9,277.3 275.6,277.4 276.3,277.5 277.0,277.6 277.7,277.7 278.4,277.8 279.1,277.9 279.8,278.0 280.5,278.1 281.2,278.2 281.9,278.3 282.6,278.4 283.3,278.5 284.0,278.6 284.7,278.7 285.4,278.7 286.1,278.8 286.8,278.9 287.5,278.9 288.2,279.0 288.9,279.1 289.6,279.2 290.3,279.2 291.0,279.3 291.7,279.4 292.3,279.4 293.0,279.5 293.7,279.6 294.4,279.6 295.1,279.7 295.8,279.8 296.5,279.9 297.2,279.9 297.9,280.0 298.6,280.1 299.3,280.1 300.0,280.2 300.7,280.3 301.3,280.4 302.0,280.4 302.7,280.5 303.3,280.6 304.0,280.7 304.7,280.8 305.3,280.8 306.0,280.9 306.7,281.0 307.3,281.1 308.0,281.2 308.7,281.2 309.3,281.3 310.0,281.4 310.6,285.0 311.2,288.7 311.9,291.8 312.5,294.9 313.1,298.6 313.7,302.4 314.4,307.4 315.0,312.4 315.6,312.2 316.2,312.0 316.9,311.9 317.5,311.7 318.2,310.7 318.9,309.8 319.6,308.8 320.3,307.8 321.0,306.8 321.7,305.9 322.4,304.9 323.1,303.9 323.8,302.9 324.5,301.9 325.3,301.0 326.0,300.0 326.7,299.0 327.4,298.0 328.1,297.5 328.8,297.1 329.5,296.6 330.2,296.1 330.9,295.7 331.6,295.2 332.3,294.8 333.0,294.3 333.4,228.1 334.3,265.0 334.9,270.0 335.5,275.0 336.1,277.5 336.8,279.9 337.4,282.4 338.1,283.3 338.9,284.2 339.6,285.0 340.4,285.9 341.1,286.8 341.8,287.0 342.5,287.1 343.2,287.3 344.0,287.5 344.7,287.7 345.4,287.8 346.1,288.0 346.7,288.5 347.4,288.9 348.0,289.4 348.6,289.9 349.2,287.4 349.9,284.9 350.5,279.9 351.1,275.0 351.7,272.1 352.4,269.1 353.0,266.2 353.6,263.8 354.2,261.3 354.9,258.9 355.5,256.4 356.1,254.0 356.7,250.5 357.4,246.9 358.0,243.4 358.6,239.9 359.2,237.4 359.9,234.9 360.5,232.4 361.1,231.8 361.7,231.2 362.4,230.5 363.0,229.9 363.6,229.3 364.3,229.8 365.1,230.3 365.8,230.8 366.6,231.3 367.3,231.8 368.0,232.4 368.7,232.9 369.3,233.5 370.0,234.1 370.7,234.6 371.4,235.2 372.1,235.7 372.8,236.3 373.4,236.9 374.1,237.4 374.8,238.0 375.5,237.6 376.2,237.1 376.9,236.7 377.7,236.2 378.4,235.8 379.1,235.3 379.8,234.9 380.4,233.4 381.1,232.0 381.8,230.5 382.4,229.0 383.1,227.6 383.7,226.1 384.3,225.7 385.0,225.3 385.6,224.8 386.2,224.4 386.9,224.0 387.5,223.6 388.2,223.6 388.9,223.6 389.6,223.6 390.3,223.6 390.9,223.6 391.6,223.6 392.3,223.6 393.0,223.6 393.7,223.6 394.4,223.4 395.1,223.3 395.8,223.2 396.5,223.0 397.2,222.8 397.9,222.7 398.6,222.6 399.3,222.4 400.0,222.9 400.7,223.3 401.4,223.8 402.1,224.2 402.8,224.7 403.5,225.2 404.2,225.6 404.9,226.1 405.6,226.7 406.3,227.4 407.0,228.0 407.8,228.6 408.5,229.2 409.2,229.9 409.9,230.5 410.5,232.4 411.1,234.2 411.8,236.1 412.4,238.0 413.0,239.9 413.6,241.8 414.3,243.6 414.9,245.5 415.5,247.4 416.1,249.0 416.8,250.6 417.4,252.3 418.1,253.9 418.7,255.5 419.4,254.6 420.2,253.8 420.9,252.9 421.7,252.1 422.4,251.2 423.1,250.6 423.8,249.9 424.5,249.3 425.3,248.7 426.0,248.1 426.7,247.4 427.4,246.8 428.1,246.5 428.8,246.1 429.5,245.8 430.2,245.4 430.8,245.1 431.5,244.7 432.2,244.4 432.9,244.0 433.6,243.7 434.3,243.2 435.0,242.8 435.7,242.3 436.5,241.8 437.2,241.3 437.9,240.9 438.6,240.4 439.3,239.6 440.1,238.7 440.8,237.9 441.6,237.0 442.3,236.2 442.9,235.2 443.6,234.3 444.2,233.3 444.8,232.4 445.5,231.6 446.1,230.8 446.8,230.0 447.4,229.2 448.1,228.4 448.7,227.6 449.4,226.8 450.1,225.8 450.8,224.9 451.4,223.9 452.1,222.9 452.8,222.0 453.5,221.0 454.2,220.1 454.9,219.2 455.5,218.3 456.2,217.4 456.9,216.5 457.6,216.3 458.3,216.0 459.0,215.8 459.7,215.6 460.4,215.3 461.1,215.1 461.8,214.8 462.5,214.6 463.2,214.1 463.9,213.7 464.6,213.2 465.3,212.8 466.0,212.3 466.7,211.8 467.4,211.4 468.1,210.9 468.8,209.7 469.4,208.5 470.1,207.3 470.8,206.0 471.5,204.8 472.1,203.6 472.8,202.4 473.5,201.7 474.1,201.1 474.8,200.4 475.5,199.8 476.2,199.1 476.8,198.5 477.5,197.8 478.2,197.0 478.8,196.3 479.5,195.5 480.2,194.7 480.9,193.9 481.5,193.2 482.2,192.4 482.9,191.6 483.6,190.8 484.2,190.1 484.9,189.3 485.5,188.2 486.1,187.2 486.8,186.1 487.4,185.1 488.0,184.0 488.6,182.8 489.3,181.5 490.0,180.2 490.6,179.0 491.3,178.1 492.1,177.1 492.8,176.2 493.6,175.2 494.3,174.3 495.1,174.7 496.0,175.0 496.6,176.0 497.3,177.0 497.9,177.9 498.6,178.9 499.2,179.9 499.9,180.9 500.6,181.4 501.2,181.9 501.9,182.4 502.6,182.8 503.3,183.3 503.9,183.8 504.6,184.3 505.3,183.7 505.9,183.1 506.6,182.4 507.3,181.8 507.9,181.2 508.6,180.6 509.2,180.3 509.9,180.0 510.5,179.6 511.1,179.3 511.8,179.0 512.4,178.7 513.1,178.0 513.9,177.2 514.6,176.5 515.4,175.7 516.1,175.0 516.8,174.5 517.4,174.0 518.1,173.6 518.7,173.1 519.4,172.6 520.2,173.2 520.9,173.7 521.7,174.3 522.3,176.6 523.0,178.9 523.6,181.2 524.4,184.8 525.2,188.5 525.9,191.8 526.6,195.0 527.3,198.5 528.0,202.0 528.8,207.6 529.6,213.2 530.5,165.8 531.3,180.0 532.1,186.7 533.0,193.3 533.8,196.7 534.6,200.0 535.5,211.6 536.3,216.6 537.1,221.6 538.0,227.4 538.8,233.2 539.5,235.2 540.2,237.2 541.0,239.2 541.7,241.2 542.3,242.4 542.9,243.7 543.6,244.9 544.2,246.2 544.8,247.4 545.5,248.3 546.2,249.1 546.9,250.0 547.7,250.9 548.4,251.8 549.1,252.6 549.8,253.5 550.5,254.1 551.2,254.6 551.9,255.2 552.7,255.7 553.4,256.3 554.1,256.8 554.8,257.4 555.5,257.8 556.1,258.3 556.8,258.7 557.4,259.1 558.1,259.5 558.7,260.0 559.4,260.4 560.1,260.6 560.7,260.9 561.4,261.1 562.0,261.3 562.7,261.5 563.3,261.8 564.0,262.0 564.7,262.2 565.4,262.3 566.1,262.5 566.9,262.6 567.6,262.8 568.3,262.9 569.0,263.1 569.7,263.2 570.3,263.3 571.0,263.4 571.6,263.5 572.3,263.5 572.9,263.6 573.6,263.7 574.2,263.8 574.9,263.9 575.6,263.9 576.3,264.0 577.0,264.0 577.6,264.1 578.3,264.1 579.0,264.2 579.7,264.2 580.4,264.3 581.1,264.3 581.8,264.4 582.4,264.4 583.1,264.5 583.8,264.6 584.5,264.6 585.2,264.6 585.9,264.7 586.5,264.8 587.2,264.8 587.9,264.9 588.6,264.9 589.3,264.9 590.0,265.0 590.7,265.1 591.3,265.1 592.0,265.2 592.7,265.2 593.4,265.2 594.1,265.3 594.8,265.4 595.5,265.4 596.1,265.5 596.8,265.5 597.5,265.6 598.2,265.6 598.9,265.7 599.6,265.7 600.3,265.8 601.0,265.8 601.7,265.9 602.4,266.0 603.1,266.0 603.7,266.1 604.4,266.1 605.1,266.2 605.8,266.3 606.5,266.3 607.2,266.4 607.9,266.4 608.6,266.5 609.3,266.6 610.0,266.6 610.7,266.7 611.4,266.7 612.1,266.8 612.8,266.9 613.4,266.9 614.1,267.0 614.8,267.0 615.5,267.1 616.2,267.1 616.9,267.2 617.6,267.3 618.3,267.3 619.0,267.4 619.7,267.4 620.4,267.5 621.1,267.6 621.8,267.6 622.4,267.7 623.1,267.7 623.8,267.8 624.5,267.9 625.2,267.9 625.9,268.0 626.6,268.0 627.3,268.1 628.0,268.2 628.7,268.3 629.4,268.3 630.1,268.4 630.8,268.5 631.4,268.6 632.1,268.7 632.8,268.7 633.5,268.8 634.2,268.9 634.9,269.0 635.6,269.0 636.3,269.1 637.0,269.2 637.7,269.3 638.3,269.4 639.0,269.4 639.7,269.5 640.4,269.6 641.1,269.7 641.8,269.8 642.5,269.8 643.2,269.9 643.9,270.0 644.6,270.1 645.3,270.1 645.9,270.2 646.6,270.3 647.3,270.4 648.0,270.5 648.7,270.5 649.4,270.6 650.1,270.7 650.8,270.8 651.5,270.8 652.2,270.9 652.8,271.0 653.5,271.1 654.2,271.2 654.9,271.2 655.6,271.3 656.3,271.4 657.0,271.5 657.7,271.5 658.3,271.6 659.0,271.7 659.7,271.7 660.4,271.8 661.1,271.9 661.7,271.9 662.4,272.0 663.1,272.1 663.8,272.1 664.5,272.2 665.2,272.3 665.8,272.3 666.5,272.4 667.2,272.5 667.9,272.5 668.6,272.6 669.2,272.7 669.9,272.7 670.6,272.8 671.3,272.9 672.0,272.9 672.6,273.0 673.3,273.1 674.0,273.1 674.7,273.2 675.4,273.3 676.0,273.3 676.7,273.4 677.4,273.5 678.1,273.5 678.8,273.6 679.5,273.7 680.1,273.7 680.8,273.8 681.5,273.9 682.2,273.9 682.9,274.0 683.5,274.1 684.2,274.1 684.9,274.2 685.6,274.3 686.3,274.4 687.0,274.5 687.7,274.6 688.4,274.7 689.1,274.7 689.8,274.8 690.5,274.9 691.1,275.0 691.8,275.1 692.5,275.2 693.2,275.3 693.9,275.4 694.6,275.5 695.3,275.6 696.0,275.7 696.7,275.7 697.4,275.8 698.1,275.9 698.8,276.0 699.5,276.1 700.2,276.2 700.9,276.3 701.6,276.4 702.2,276.5 702.9,276.6 703.6,276.7 704.3,276.7 705.0,276.8 705.7,276.9 706.4,277.0 707.1,277.1 707.8,277.2 708.3,280.9 708.9,284.5 709.7,289.9 710.4,295.2 711.2,300.6 712.0,305.9 712.7,311.3 713.5,316.6 714.3,321.2 715.0,325.7 715.8,330.3 716.5,328.9 717.2,327.6 717.8,326.2 718.5,324.9 719.2,323.5 719.9,322.1 720.6,320.6 721.3,319.1 722.0,317.7 722.7,316.1 723.3,314.6 724.0,313.0" fill="none" stroke="#ff7f0e" stroke-width="1.0" stroke-linejoin="round"/><path d="M43.5 235.6h0M44.2 234.7h0M44.8 233.7h0M45.5 232.8h0M46.2 231.9h0M46.8 230.9h0M47.5 230.0h0M48.2 228.8h0M48.9 227.5h0M49.6 226.2h0M50.4 225.0h0M51.1 223.8h0M51.8 222.5h0M52.5 219.7h0M53.1 216.9h0M53.7 211.0h0M54.0 208.7h0M54.7 200.6h0M55.3 193.1h0M56.2 190.3h0M56.9 192.0h0M57.5 193.7h0M58.1 195.4h0M58.7 197.0h0M59.3 198.7h0M60.0 199.4h0M60.8 200.2h0M61.5 200.9h0M62.2 199.3h0M63.0 197.8h0M63.7 196.2h0M64.3 194.9h0M65.0 193.7h0M65.6 192.4h0M66.2 191.2h0M66.8 192.0h0M67.5 192.8h0M68.1 193.6h0M68.7 194.4h0M69.3 194.1h0M70.0 193.8h0M70.6 193.4h0M71.2 193.1h0M71.9 192.5h0M72.6 191.8h0M73.3 191.2h0M74.0 190.6h0M74.7 191.3h0M75.4 192.0h0M76.0 192.6h0M76.7 193.3h0M77.4 194.0h0M78.0 192.7h0M78.7 191.3h0M79.3 190.0h0M79.9 188.3h0M80.5 186.7h0M81.1 185.0h0M81.7 183.2h0M82.4 181.5h0M83.0 179.7h0M83.8 180.5h0M84.5 181.3h0M85.2 182.2h0M86.0 183.0h0M86.7 183.9h0M87.3 184.9h0M88.0 185.8h0M88.6 186.8h0M89.2 187.8h0M89.9 188.7h0M90.6 192.4h0M91.4 196.2h0M92.1 199.9h0M92.9 203.7h0M93.6 207.4h0M94.2 211.2h0M94.9 215.0h0M95.6 217.9h0M96.4 220.8h0M97.1 223.7h0M97.9 226.6h0M98.6 229.5h0M99.2 232.1h0M99.8 234.8h0M100.5 237.4h0M101.1 240.0h0M101.8 241.6h0M102.5 243.2h0M103.2 244.8h0M104.0 246.4h0M104.7 248.0h0M105.4 249.6h0M106.1 251.2h0M106.8 251.8h0M107.4 252.5h0M108.0 253.1h0M108.7 253.7h0M109.3 254.4h0M110.0 255.0h0M110.7 255.6h0M111.4 256.2h0M112.1 256.8h0M112.9 257.5h0M113.6 258.1h0M114.3 258.7h0M115.0 259.3h0M115.7 259.8h0M116.4 260.2h0M117.1 260.7h0M117.9 261.1h0M118.6 261.6h0M119.3 262.0h0M120.0 262.5h0M120.7 262.7h0M121.4 262.9h0M122.1 263.1h0M122.8 263.3h0M123.4 263.5h0M124.1 263.7h0M124.8 263.9h0M125.5 264.1h0M126.2 264.3h0M126.9 264.4h0M127.5 264.5h0M128.2 264.7h0M128.9 264.8h0M129.5 264.9h0M130.2 265.0h0M130.9 265.2h0M131.6 265.3h0M132.2 265.4h0M132.9 265.5h0M133.6 265.7h0M134.2 265.8h0M134.9 265.9h0M135.6 252.5h0M136.2 252.4h0M136.8 252.2h0M137.5 252.1h0M138.1 251.9h0M138.7 251.8h0M139.3 253.3h0M139.9 254.7h0M140.5 256.2h0M141.1 257.4h0M141.8 258.7h0M142.4 259.9h0M143.1 261.2h0M143.7 262.4h0M144.4 263.0h0M145.1 263.7h0M145.8 264.3h0M146.6 264.9h0M147.3 265.5h0M148.0 266.2h0M148.7 266.8h0M149.4 267.0h0M150.0 267.3h0M150.7 267.5h0M151.4 267.7h0M152.1 267.9h0M152.7 268.2h0M153.4 268.4h0M154.1 268.6h0M154.8 268.8h0M155.4 269.1h0M156.1 269.3h0M156.8 269.4h0M157.5 269.5h0M158.1 269.5h0M158.8 269.6h0M159.5 269.7h0M160.2 269.8h0M160.9 269.9h0M161.6 270.0h0M162.2 270.0h0M162.9 270.1h0M163.6 270.2h0M164.3 270.2h0M164.9 270.3h0M165.6 270.3h0M166.3 270.4h0M166.9 270.4h0M167.6 270.5h0M168.3 270.5h0M169.0 270.6h0M169.6 270.6h0M170.3 270.7h0M171.0 270.7h0M171.6 270.8h0M172.3 270.8h0M173.0 270.8h0M173.7 270.8h0M174.4 270.8h0M175.1 270.7h0M175.8 270.7h0M176.5 270.7h0M177.2 270.7h0M177.9 270.7h0M178.6 270.6h0M179.2 270.6h0M179.9 270.6h0M180.6 270.6h0M181.3 270.6h0M182.0 270.6h0M182.7 270.6h0M183.4 270.5h0M184.1 270.5h0M184.8 270.5h0M185.5 270.5h0M186.2 270.5h0M186.9 270.5h0M187.6 270.5h0M188.3 270.5h0M189.0 270.5h0M189.7 270.5h0M190.4 270.5h0M191.0 270.4h0M191.7 270.4h0M192.4 270.4h0M193.1 270.4h0M193.8 270.4h0M194.5 270.4h0M195.2 270.4h0M195.9 270.4h0M196.6 270.4h0M197.3 270.4h0M198.0 270.5h0M198.7 270.5h0M199.4 270.6h0M200.1 270.6h0M200.8 270.7h0M201.5 270.8h0M202.2 270.8h0M202.8 270.8h0M203.5 270.9h0M204.2 270.9h0M204.9 271.0h0M205.6 271.0h0M206.3 271.1h0M207.0 271.1h0M207.7 271.2h0M208.4 271.2h0M209.1 271.3h0M209.8 271.3h0M210.5 271.4h0M211.2 271.4h0M211.9 271.5h0M212.6 271.6h0M213.3 271.6h0M214.0 271.6h0M214.7 271.7h0M215.3 271.8h0M216.0 271.8h0M216.7 271.8h0M217.4 271.9h0M218.1 271.9h0M218.8 272.0h0M219.5 272.1h0M220.2 272.1h0M220.9 272.1h0M221.6 272.2h0M222.3 272.3h0M223.0 272.3h0M223.6 272.4h0M224.3 272.5h0M225.0 272.5h0M225.7 272.6h0M226.4 272.6h0M227.1 272.7h0M227.7 272.8h0M228.4 272.8h0M229.1 272.9h0M229.8 273.0h0M230.5 273.0h0M231.1 273.1h0M231.8 273.1h0M232.5 273.2h0M233.2 273.3h0M233.9 273.3h0M234.5 273.4h0M235.2 273.5h0M235.9 273.5h0M236.6 273.6h0M237.3 273.6h0M238.0 273.7h0M238.6 273.8h0M239.3 273.8h0M240.0 273.9h0M240.7 274.0h0M241.3 274.1h0M242.0 274.1h0M242.7 274.2h0M243.4 274.3h0M244.0 274.4h0M244.7 274.5h0M245.4 274.5h0M246.1 274.6h0M246.7 274.7h0M247.4 274.8h0M248.1 274.8h0M248.8 274.9h0M249.4 275.0h0M250.1 275.1h0M250.8 275.2h0M251.5 275.2h0M252.1 275.3h0M252.8 275.4h0M253.5 275.4h0M254.2 275.5h0M254.9 275.5h0M255.6 275.6h0M256.2 275.6h0M256.9 275.7h0M257.6 275.7h0M258.3 275.8h0M259.0 275.8h0M259.7 275.9h0M260.4 275.9h0M261.1 276.0h0M261.7 276.0h0M262.4 276.1h0M263.1 276.1h0M263.8 276.2h0M264.5 276.2h0M265.2 276.3h0M265.9 276.3h0M266.6 276.4h0M267.2 276.4h0M267.9 276.5h0M268.6 276.5h0M269.3 276.6h0M270.0 276.6h0M270.7 276.7h0M271.4 276.8h0M272.1 276.9h0M272.8 277.0h0M273.5 277.1h0M274.2 277.2h0M274.9 277.3h0M275.6 277.4h0M276.3 277.5h0M277.0 277.6h0M277.7 277.7h0M278.4 277.8h0M279.1 277.9h0M279.8 278.0h0M280.5 278.1h0M281.2 278.2h0M281.9 278.3h0M282.6 278.4h0M283.3 278.5h0M284.0 278.6h0M284.7 278.7h0M285.4 278.7h0M286.1 278.8h0M286.8 278.9h0M287.5 278.9h0M288.2 279.0h0M288.9 279.1h0M289.6 279.2h0M290.3 279.2h0M291.0 279.3h0M291.7 279.4h0M292.3 279.4h0M293.0 279.5h0M293.7 279.6h0M294.4 279.6h0M295.1 279.7h0M295.8 279.8h0M296.5 279.9h0M297.2 279.9h0M297.9 280.0h0M298.6 280.1h0M299.3 280.1h0M300.0 280.2h0M300.7 280.3h0M301.3 280.4h0M302.0 280.4h0M302.7 280.5h0M303.3 280.6h0M304.0 280.7h0M304.7 280.8h0M305.3 280.8h0M306.0 280.9h0M306.7 281.0h0M307.3 281.1h0M308.0 281.2h0M308.7 281.2h0M309.3 281.3h0M310.0 281.4h0M310.6 285.0h0M311.2 288.7h0M311.9 291.8h0M312.5 294.9h0M313.1 298.6h0M313.7 302.4h0M314.4 307.4h0M315.0 312.4h0M315.6 312.2h0M316.2 312.0h0M316.9 311.9h0M317.5 311.7h0M318.2 310.7h0M318.9 309.8h0M319.6 308.8h0M320.3 307.8h0M321.0 306.8h0M321.7 305.9h0M322.4 304.9h0M323.1 303.9h0M323.8 302.9h0M324.5 301.9h0M325.3 301.0h0M326.0 300.0h0M326.7 299.0h0M327.4 298.0h0M328.1 297.5h0M328.8 297.1h0M329.5 296.6h0M330.2 296.1h0M330.9 295.7h0M331.6 295.2h0M332.3 294.8h0M333.0 294.3h0M333.4 228.1h0M334.3 265.0h0M334.9 270.0h0M335.5 275.0h0M336.1 277.5h0M336.8 279.9h0M337.4 282.4h0M338.1 283.3h0M338.9 284.2h0M339.6 285.0h0M340.4 285.9h0M341.1 286.8h0M341.8 287.0h0M342.5 287.1h0M343.2 287.3h0M344.0 287.5h0M344.7 287.7h0M345.4 287.8h0M346.1 288.0h0M346.7 288.5h0M347.4 288.9h0M348.0 289.4h0M348.6 289.9h0M349.2 287.4h0M349.9 284.9h0M350.5 279.9h0M351.1 275.0h0M351.7 272.1h0M352.4 269.1h0M353.0 266.2h0M353.6 263.8h0M354.2 261.3h0M354.9 258.9h0M355.5 256.4h0M356.1 254.0h0M356.7 250.5h0M357.4 246.9h0M358.0 243.4h0M358.6 239.9h0M359.2 237.4h0M359.9 234.9h0M360.5 232.4h0M361.1 231.8h0M361.7 231.2h0M362.4 230.5h0M363.0 229.9h0M363.6 229.3h0M364.3 229.8h0M365.1 230.3h0M365.8 230.8h0M366.6 231.3h0M367.3 231.8h0M368.0 232.4h0M368.7 232.9h0M369.3 233.5h0M370.0 234.1h0M370.7 234.6h0M371.4 235.2h0M372.1 235.7h0M372.8 236.3h0M373.4 236.9h0M374.1 237.4h0M374.8 238.0h0M375.5 237.6h0M376.2 237.1h0M376.9 236.7h0M377.7 236.2h0M378.4 235.8h0M379.1 235.3h0M379.8 234.9h0M380.4 233.4h0M381.1 232.0h0M381.8 230.5h0M382.4 229.0h0M383.1 227.6h0M383.7 226.1h0M384.3 225.7h0M385.0 225.3h0M385.6 224.8h0M386.2 224.4h0M386.9 224.0h0M387.5 223.6h0M388.2 223.6h0M388.9 223.6h0M389.6 223.6h0M390.3 223.6h0M390.9 223.6h0M391.6 223.6h0M392.3 223.6h0M393.0 223.6h0M393.7 223.6h0M394.4 223.4h0M395.1 223.3h0M395.8 223.2h0M396.5 223.0h0M397.2 222.8h0M397.9 222.7h0M398.6 222.6h0M399.3 222.4h0M400.0 222.9h0M400.7 223.3h0M401.4 223.8h0M402.1 224.2h0M402.8 224.7h0M403.5 225.2h0M404.2 225.6h0M404.9 226.1h0M405.6 226.7h0M406.3 227.4h0M407.0 228.0h0M407.8 228.6h0M408.5 229.2h0M409.2 229.9h0M409.9 230.5h0M410.5 232.4h0M411.1 234.2h0M411.8 236.1h0M412.4 238.0h0M413.0 239.9h0M413.6 241.8h0M414.3 243.6h0M414.9 245.5h0M415.5 247.4h0M416.1 249.0h0M416.8 250.6h0M417.4 252.3h0M418.1 253.9h0M418.7 255.5h0M419.4 254.6h0M420.2 253.8h0M420.9 252.9h0M421.7 252.1h0M422.4 251.2h0M423.1 250.6h0M423.8 249.9h0M424.5 249.3h0M425.3 248.7h0M426.0 248.1h0M426.7 247.4h0M427.4 246.8h0M428.1 246.5h0M428.8 246.1h0M429.5 245.8h0M430.2 245.4h0M430.8 245.1h0M431.5 244.7h0M432.2 244.4h0M432.9 244.0h0M433.6 243.7h0M434.3 243.2h0M435.0 242.8h0M435.7 242.3h0M436.5 241.8h0M437.2 241.3h0M437.9 240.9h0M438.6 240.4h0M439.3 239.6h0M440.1 238.7h0M440.8 237.9h0M441.6 237.0h0M442.3 236.2h0M442.9 235.2h0M443.6 234.3h0M444.2 233.3h0M444.8 232.4h0M445.5 231.6h0M446.1 230.8h0M446.8 230.0h0M447.4 229.2h0M448.1 228.4h0M448.7 227.6h0M449.4 226.8h0M450.1 225.8h0M450.8 224.9h0M451.4 223.9h0M452.1 222.9h0M452.8 222.0h0M453.5 221.0h0M454.2 220.1h0M454.9 219.2h0M455.5 218.3h0M456.2 217.4h0M456.9 216.5h0M457.6 216.3h0M458.3 216.0h0M459.0 215.8h0M459.7 215.6h0M460.4 215.3h0M461.1 215.1h0M461.8 214.8h0M462.5 214.6h0M463.2 214.1h0M463.9 213.7h0M464.6 213.2h0M465.3 212.8h0M466.0 212.3h0M466.7 211.8h0M467.4 211.4h0M468.1 210.9h0M468.8 209.7h0M469.4 208.5h0M470.1 207.3h0M470.8 206.0h0M471.5 204.8h0M472.1 203.6h0M472.8 202.4h0M473.5 201.7h0M474.1 201.1h0M474.8 200.4h0M475.5 199.8h0M476.2 199.1h0M476.8 198.5h0M477.5 197.8h0M478.2 197.0h0M478.8 196.3h0M479.5 195.5h0M480.2 194.7h0M480.9 193.9h0M481.5 193.2h0M482.2 192.4h0M482.9 191.6h0M483.6 190.8h0M484.2 190.1h0M484.9 189.3h0M485.5 188.2h0M486.1 187.2h0M486.8 186.1h0M487.4 185.1h0M488.0 184.0h0M488.6 182.8h0M489.3 181.5h0M490.0 180.2h0M490.6 179.0h0M491.3 178.1h0M492.1 177.1h0M492.8 176.2h0M493.6 175.2h0M494.3 174.3h0M495.1 174.7h0M496.0 175.0h0M496.6 176.0h0M497.3 177.0h0M497.9 177.9h0M498.6 178.9h0M499.2 179.9h0M499.9 180.9h0M500.6 181.4h0M501.2 181.9h0M501.9 182.4h0M502.6 182.8h0M503.3 183.3h0M503.9 183.8h0M504.6 184.3h0M505.3 183.7h0M505.9 183.1h0M506.6 182.4h0M507.3 181.8h0M507.9 181.2h0M508.6 180.6h0M509.2 180.3h0M509.9 180.0h0M510.5 179.6h0M511.1 179.3h0M511.8 179.0h0M512.4 178.7h0M513.1 178.0h0M513.9 177.2h0M514.6 176.5h0M515.4 175.7h0M516.1 175.0h0M516.8 174.5h0M517.4 174.0h0M518.1 173.6h0M518.7 173.1h0M519.4 172.6h0M520.2 173.2h0M520.9 173.7h0M521.7 174.3h0M522.3 176.6h0M523.0 178.9h0M523.6 181.2h0M524.4 184.8h0M525.2 188.5h0M525.9 191.8h0M526.6 195.0h0M527.3 198.5h0M528.0 202.0h0M528.8 207.6h0M529.6 213.2h0M530.5 165.8h0M531.3 180.0h0M532.1 186.7h0M533.0 193.3h0M533.8 196.7h0M534.6 200.0h0M535.5 211.6h0M536.3 216.6h0M537.1 221.6h0M538.0 227.4h0M538.8 233.2h0M539.5 235.2h0M540.2 237.2h0M541.0 239.2h0M541.7 241.2h0M542.3 242.4h0M542.9 243.7h0M543.6 244.9h0M544.2 246.2h0M544.8 247.4h0M545.5 248.3h0M546.2 249.1h0M546.9 250.0h0M547.7 250.9h0M548.4 251.8h0M549.1 252.6h0M549.8 253.5h0M550.5 254.1h0M551.2 254.6h0M551.9 255.2h0M552.7 255.7h0M553.4 256.3h0M554.1 256.8h0M554.8 257.4h0M555.5 257.8h0M556.1 258.3h0M556.8 258.7h0M557.4 259.1h0M558.1 259.5h0M558.7 260.0h0M559.4 260.4h0M560.1 260.6h0M560.7 260.9h0M561.4 261.1h0M562.0 261.3h0M562.7 261.5h0M563.3 261.8h0M564.0 262.0h0M564.7 262.2h0M565.4 262.3h0M566.1 262.5h0M566.9 262.6h0M567.6 262.8h0M568.3 262.9h0M569.0 263.1h0M569.7 263.2h0M570.3 263.3h0M571.0 263.4h0M571.6 263.5h0M572.3 263.5h0M572.9 263.6h0M573.6 263.7h0M574.2 263.8h0M574.9 263.9h0M575.6 263.9h0M576.3 264.0h0M577.0 264.0h0M577.6 264.1h0M578.3 264.1h0M579.0 264.2h0M579.7 264.2h0M580.4 264.3h0M581.1 264.3h0M581.8 264.4h0M582.4 264.4h0M583.1 264.5h0M583.8 264.6h0M584.5 264.6h0M585.2 264.6h0M585.9 264.7h0M586.5 264.8h0M587.2 264.8h0M587.9 264.9h0M588.6 264.9h0M589.3 264.9h0M590.0 265.0h0M590.7 265.1h0M591.3 265.1h0M592.0 265.2h0M592.7 265.2h0M593.4 265.2h0M594.1 265.3h0M594.8 265.4h0M595.5 265.4h0M596.1 265.5h0M596.8 265.5h0M597.5 265.6h0M598.2 265.6h0M598.9 265.7h0M599.6 265.7h0M600.3 265.8h0M601.0 265.8h0M601.7 265.9h0M602.4 266.0h0M603.1 266.0h0M603.7 266.1h0M604.4 266.1h0M605.1 266.2h0M605.8 266.3h0M606.5 266.3h0M607.2 266.4h0M607.9 266.4h0M608.6 266.5h0M609.3 266.6h0M610.0 266.6h0M610.7 266.7h0M611.4 266.7h0M612.1 266.8h0M612.8 266.9h0M613.4 266.9h0M614.1 267.0h0M614.8 267.0h0M615.5 267.1h0M616.2 267.1h0M616.9 267.2h0M617.6 267.3h0M618.3 267.3h0M619.0 267.4h0M619.7 267.4h0M620.4 267.5h0M621.1 267.6h0M621.8 267.6h0M622.4 267.7h0M623.1 267.7h0M623.8 267.8h0M624.5 267.9h0M625.2 267.9h0M625.9 268.0h0M626.6 268.0h0M627.3 268.1h0M628.0 268.2h0M628.7 268.3h0M629.4 268.3h0M630.1 268.4h0M630.8 268.5h0M631.4 268.6h0M632.1 268.7h0M632.8 268.7h0M633.5 268.8h0M634.2 268.9h0M634.9 269.0h0M635.6 269.0h0M636.3 269.1h0M637.0 269.2h0M637.7 269.3h0M638.3 269.4h0M639.0 269.4h0M639.7 269.5h0M640.4 269.6h0M641.1 269.7h0M641.8 269.8h0M642.5 269.8h0M643.2 269.9h0M643.9 270.0h0M644.6 270.1h0M645.3 270.1h0M645.9 270.2h0M646.6 270.3h0M647.3 270.4h0M648.0 270.5h0M648.7 270.5h0M649.4 270.6h0M650.1 270.7h0M650.8 270.8h0M651.5 270.8h0M652.2 270.9h0M652.8 271.0h0M653.5 271.1h0M654.2 271.2h0M654.9 271.2h0M655.6 271.3h0M656.3 271.4h0M657.0 271.5h0M657.7 271.5h0M658.3 271.6h0M659.0 271.7h0M659.7 271.7h0M660.4 271.8h0M661.1 271.9h0M661.7 271.9h0M662.4 272.0h0M663.1 272.1h0M663.8 272.1h0M664.5 272.2h0M665.2 272.3h0M665.8 272.3h0M666.5 272.4h0M667.2 272.5h0M667.9 272.5h0M668.6 272.6h0M669.2 272.7h0M669.9 272.7h0M670.6 272.8h0M671.3 272.9h0M672.0 272.9h0M672.6 273.0h0M673.3 273.1h0M674.0 273.1h0M674.7 273.2h0M675.4 273.3h0M676.0 273.3h0M676.7 273.4h0M677.4 273.5h0M678.1 273.5h0M678.8 273.6h0M679.5 273.7h0M680.1 273.7h0M680.8 273.8h0M681.5 273.9h0M682.2 273.9h0M682.9 274.0h0M683.5 274.1h0M684.2 274.1h0M684.9 274.2h0M685.6 274.3h0M686.3 274.4h0M687.0 274.5h0M687.7 274.6h0M688.4 274.7h0M689.1 274.7h0M689.8 274.8h0M690.5 274.9h0M691.1 275.0h0M691.8 275.1h0M692.5 275.2h0M693.2 275.3h0M693.9 275.4h0M694.6 275.5h0M695.3 275.6h0M696.0 275.7h0M696.7 275.7h0M697.4 275.8h0M698.1 275.9h0M698.8 276.0h0M699.5 276.1h0M700.2 276.2h0M700.9 276.3h0M701.6 276.4h0M702.2 276.5h0M702.9 276.6h0M703.6 276.7h0M704.3 276.7h0M705.0 276.8h0M705.7 276.9h0M706.4 277.0h0M707.1 277.1h0M707.8 277.2h0M708.3 280.9h0M708.9 284.5h0M709.7 289.9h0M710.4 295.2h0M711.2 300.6h0M712.0 305.9h0M712.7 311.3h0M713.5 316.6h0M714.3 321.2h0M715.0 325.7h0M715.8 330.3h0M716.5 328.9h0M717.2 327.6h0M717.8 326.2h0M718.5 324.9h0M719.2 323.5h0M719.9 322.1h0M720.6 320.6h0M721.3 319.1h0M722.0 317.7h0M722.7 316.1h0M723.3 314.6h0M724.0 313.0h0" stroke="#ff7f0e" stroke-width="3.0" stroke-linecap="round" fill="none"/></g>
</svg>
</body></html>
